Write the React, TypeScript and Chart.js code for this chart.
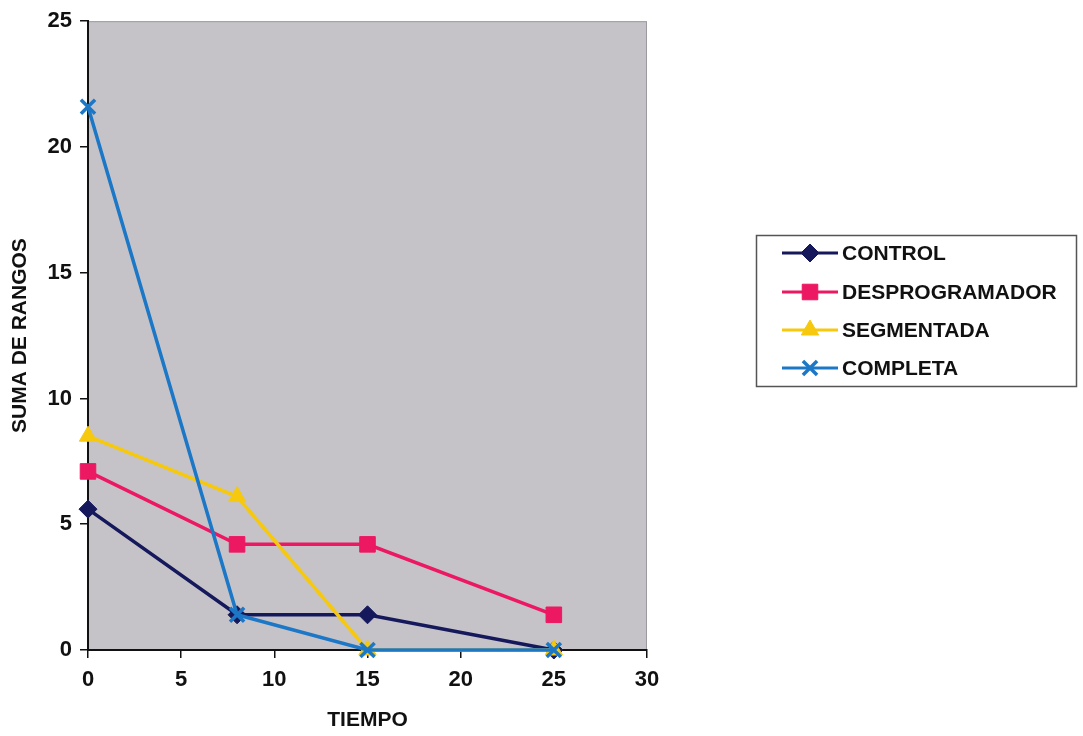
import React, { useEffect, useRef } from "react";
import { Chart, registerables } from "chart.js";

Chart.register(...registerables);

const seriesNames = ["CONTROL", "DESPROGRAMADOR", "SEGMENTADA", "COMPLETA"];
const tiempo = [0, 8, 15, 25];
const controlValues = [5.6, 1.4, 1.4, 0];
const desprogramadorValues = [7.1, 4.2, 4.2, 1.4];
const segmentadaValues = [8.5, 6.1, 0, 0];
const completaValues = [21.6, 1.4, 0, 0];
const yTicks = [0, 5, 10, 15, 20, 25];
const xTicks = [0, 5, 10, 15, 20, 25, 30];

const colors = ["#15195c", "#ec1862", "#f6c90e", "#1c78c6"];
const pointStyles = ["rectRot", "rect", "triangle", "crossRot"];
const pointRadii = [9, 11, 10, 10];

const FONT = "'Liberation Sans', Arial, sans-serif";

export default function App() {
  const ref = useRef<HTMLCanvasElement | null>(null);

  useEffect(() => {
    if (!ref.current) return;
    const all = [controlValues, desprogramadorValues, segmentadaValues, completaValues];
    const datasets = all.map((vals, i) => ({
      label: seriesNames[i],
      data: vals.map((v, j) => ({ x: tiempo[j], y: v })),
      borderColor: colors[i],
      backgroundColor: colors[i],
      borderWidth: 3.5,
      pointStyle: pointStyles[i] as any,
      pointRadius: pointRadii[i],
      pointBorderWidth: i === 3 ? 3.5 : 1,
      pointBackgroundColor: colors[i],
      pointBorderColor: colors[i],
      tension: 0,
      clip: false as any,
      order: 3 - i,
    }));

    const bgPlugin = {
      id: "plotBg",
      beforeDraw(chart: any) {
        const { ctx, chartArea: a } = chart;
        ctx.save();
        ctx.fillStyle = "#c5c3c8";
        ctx.fillRect(a.left, a.top, a.right - a.left, a.bottom - a.top);
        ctx.strokeStyle = "#9c9aa0";
        ctx.lineWidth = 1;
        ctx.strokeRect(a.left + 0.5, a.top + 0.5, a.right - a.left - 1, a.bottom - a.top - 1);
        ctx.restore();
      },
    };

    const legendPlugin = {
      id: "boxLegend",
      afterDraw(chart: any) {
        const { ctx } = chart;
        ctx.save();
        ctx.fillStyle = "#ffffff";
        ctx.fillRect(756, 235, 320, 151);
        ctx.strokeStyle = "#555555";
        ctx.lineWidth = 1.5;
        ctx.strokeRect(756.5, 235.5, 320, 151);
        const rows = [253, 292, 330, 368];
        seriesNames.forEach((name, i) => {
          const y = rows[i];
          ctx.strokeStyle = colors[i];
          ctx.lineWidth = 3;
          ctx.beginPath();
          ctx.moveTo(782, y);
          ctx.lineTo(838, y);
          ctx.stroke();
          const ds = chart.getDatasetMeta(i);
          const el = ds.data[0];
          if (el) {
            const saveX = el.x, saveY = el.y;
            el.x = 810; el.y = y;
            el.draw(ctx);
            el.x = saveX; el.y = saveY;
          }
          ctx.fillStyle = "#111111";
          ctx.font = `bold 21px ${FONT}`;
          ctx.textAlign = "left";
          ctx.textBaseline = "middle";
          ctx.fillText(name, 842, y + 1);
        });
        ctx.restore();
      },
    };

    const chart = new Chart(ref.current, {
      type: "line",
      data: { datasets: datasets as any },
      plugins: [bgPlugin, legendPlugin],
      options: {
        animation: false,
        responsive: true,
        maintainAspectRatio: false,
        layout: { padding: { top: 18, right: 436, left: 0, bottom: 0 } },
        plugins: {
          legend: { display: false },
          tooltip: { enabled: false },
        },
        scales: {
          x: {
            type: "linear",
            min: 0,
            max: 30,
            afterBuildTicks: (s: any) => {
              s.ticks = xTicks.map((v) => ({ value: v }));
            },
            afterFit: (s: any) => {
              s.height = 86;
            },
            grid: {
              drawOnChartArea: false,
              drawTicks: true,
              tickLength: 8,
              color: "#111111",
              lineWidth: 1.5,
            },
            border: { display: true, color: "#111111", width: 2 },
            ticks: {
              color: "#111111",
              padding: 9,
              maxRotation: 0,
              font: { family: FONT, size: 22, weight: "bold" },
            },
            title: {
              display: true,
              text: "TIEMPO",
              color: "#111111",
              padding: { top: 0, bottom: 3 },
              font: { family: FONT, size: 21, weight: "bold" },
            },
          },
          y: {
            type: "linear",
            min: 0,
            max: 25,
            afterBuildTicks: (s: any) => {
              s.ticks = yTicks.map((v) => ({ value: v }));
            },
            afterFit: (s: any) => {
              s.width = 88;
            },
            grid: {
              drawOnChartArea: false,
              drawTicks: true,
              tickLength: 8,
              color: "#111111",
              lineWidth: 1.5,
            },
            border: { display: true, color: "#111111", width: 2 },
            ticks: {
              color: "#111111",
              padding: 8,
              font: { family: FONT, size: 22, weight: "bold" },
            },
            title: {
              display: true,
              text: "SUMA DE RANGOS",
              color: "#111111",
              padding: { top: 8, bottom: 0 },
              font: { family: FONT, size: 21, weight: "bold" },
            },
          },
        },
      },
    });
    return () => chart.destroy();
  }, []);

  return (
    <div style={{ position: "fixed", left: 0, top: 0, width: 1083, height: 736, background: "#fff" }}>
      <canvas ref={ref} />
    </div>
  );
}
